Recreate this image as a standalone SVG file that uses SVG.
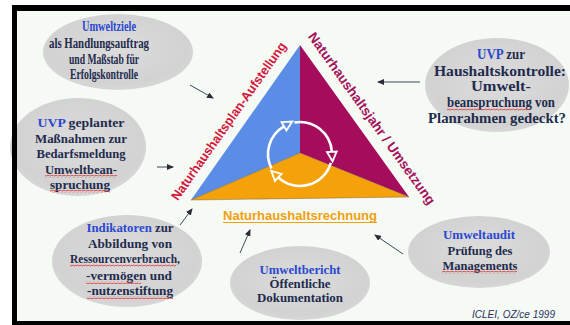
<svg xmlns="http://www.w3.org/2000/svg" width="570" height="325" viewBox="0 0 570 325">
  <defs>
    <style>
      .bubble { fill: url(#bubbleFill); }
      .t { font-family: "Liberation Serif", "Times New Roman", serif; font-weight: bold; fill: #1f2b4d; text-anchor: middle; }
      .kw { fill: #2b48d0; }
      .side { font-family: "Liberation Sans", Arial, sans-serif; font-weight: bold; text-anchor: middle; }
      .link { stroke: #44485a; stroke-width: 1; fill: none; marker-end: url(#arrow); }
      .cycle { stroke: #ffffff; stroke-width: 2.6; fill: none; marker-end: url(#cycleHead); }
      .squig { fill: url(#squiggle); }
    </style>
    <radialGradient id="bubbleFill" cx="50%" cy="45%" r="55%">
      <stop offset="0" stop-color="#dcdcdc"/>
      <stop offset="0.85" stop-color="#d2d2d2"/>
      <stop offset="1" stop-color="#d6d7d6"/>
    </radialGradient>
    <pattern id="squiggle" width="4" height="3" patternUnits="userSpaceOnUse">
      <path d="M0,2.2 L1,0.8 L3,2.2 L4,0.8" fill="none" stroke="#e03a3a" stroke-width="0.8"/>
    </pattern>
    <marker id="arrow" markerUnits="userSpaceOnUse" markerWidth="7" markerHeight="6" viewBox="0 0 7 6" refX="6" refY="3" orient="auto">
      <path d="M0,0 L7,3 L0,6 z" fill="#2a2c3a"/>
    </marker>
    <marker id="cycleHead" markerUnits="userSpaceOnUse" markerWidth="14" markerHeight="14" viewBox="-2 -7 14 14" refX="0" refY="0" orient="auto" overflow="visible">
      <path d="M0,-4.8 L9.5,0 L0,4.8 z" fill="none" stroke="#ffffff" stroke-width="1.9"/>
    </marker>
  </defs>

  <!-- page background -->
  <rect x="0" y="0" width="570" height="325" fill="#ffffff"/>
  <rect x="17" y="11" width="553" height="310" fill="#f5faf4"/>

  <!-- central triangle -->
  <g id="triangle">
    <polygon points="300,45 300,153 191,200" fill="#5b8de6"/>
    <polygon points="300,45 409,197 300,153" fill="#a50d5c"/>
    <polygon points="191,200 300,153 409,197" fill="#f4a10a" stroke="#6b5a3a" stroke-width="0.7" stroke-opacity="0.6"/>
    <g id="cycle">
      <path class="cycle" d="M294.4,122.5 A32,32 0 0 1 331.9,151.8"/>
      <path class="cycle" d="M330.8,162.8 A32,32 0 0 1 278.2,177.4"/>
      <path class="cycle" d="M271.5,168.5 A32,32 0 0 1 284,126.3"/>
    </g>
  </g>

  <!-- side labels -->
  <g id="label-plan">
    <text class="side" transform="translate(232.3,123.6) rotate(-54.9)" font-size="13" fill="#d2173c" textLength="190" lengthAdjust="spacingAndGlyphs">Naturhaushaltsplan-Aufstellung</text>
  </g>
  <g id="label-jahr">
    <text class="side" transform="translate(368,121.1) rotate(54.4)" font-size="13.5" fill="#a4125c" textLength="208" lengthAdjust="spacingAndGlyphs">Naturhaushaltsjahr / Umsetzung</text>
  </g>
  <g id="label-rechnung">
    <text class="side" x="300" y="220" font-size="13" fill="#f0a010" textLength="154" lengthAdjust="spacingAndGlyphs">Naturhaushaltsrechnung</text>
    <line x1="223" y1="222.5" x2="377" y2="222.5" stroke="#f0a010" stroke-width="1.2"/>
  </g>

  <!-- bubbles -->
  <g id="umweltziele">
    <ellipse class="bubble" cx="118" cy="52" rx="75" ry="38"/>
    <text class="t" font-size="14" x="109" y="31" textLength="54" lengthAdjust="spacingAndGlyphs"><tspan class="kw">Umweltziele</tspan></text>
    <text class="t" font-size="14" x="99" y="48" textLength="100" lengthAdjust="spacingAndGlyphs">als Handlungsauftrag</text>
    <text class="t" font-size="14" x="104" y="64" textLength="70" lengthAdjust="spacingAndGlyphs">und Maßstab für</text>
    <text class="t" font-size="14" x="104" y="79" textLength="68" lengthAdjust="spacingAndGlyphs">Erfolgskontrolle</text>
  </g>

  <g id="uvp-bedarf">
    <ellipse class="bubble" cx="78" cy="147" rx="68" ry="49"/>
    <text class="t" font-size="13" x="81" y="127" textLength="87" lengthAdjust="spacingAndGlyphs"><tspan class="kw">UVP</tspan> geplanter</text>
    <text class="t" font-size="13" x="81" y="143" textLength="92" lengthAdjust="spacingAndGlyphs">Maßnahmen zur</text>
    <text class="t" font-size="13" x="81" y="158" textLength="89" lengthAdjust="spacingAndGlyphs">Bedarfsmeldung</text>
    <text class="t" font-size="13" x="81" y="174" textLength="72" lengthAdjust="spacingAndGlyphs">Umweltbean-</text>
    <text class="t" font-size="13" x="80" y="189" textLength="60" lengthAdjust="spacingAndGlyphs">spruchung</text>
    <rect class="squig" x="45" y="175" width="72" height="3"/>
    <rect class="squig" x="50" y="190" width="60" height="3"/>
  </g>

  <g id="indikatoren">
    <ellipse class="bubble" cx="127" cy="261" rx="75" ry="46"/>
    <text class="t" font-size="13" x="130" y="232" textLength="87" lengthAdjust="spacingAndGlyphs"><tspan class="kw">Indikatoren</tspan> zur</text>
    <text class="t" font-size="13" x="130" y="248" textLength="84" lengthAdjust="spacingAndGlyphs">Abbildung von</text>
    <text class="t" font-size="13" x="125" y="263" textLength="110" lengthAdjust="spacingAndGlyphs">Ressourcenverbrauch,</text>
    <text class="t" font-size="13" x="129" y="280" textLength="86" lengthAdjust="spacingAndGlyphs">-vermögen und</text>
    <text class="t" font-size="13" x="130" y="295" textLength="86" lengthAdjust="spacingAndGlyphs">-nutzenstiftung</text>
    <rect class="squig" x="70" y="264" width="106" height="3"/>
    <rect class="squig" x="86" y="281" width="55" height="3"/>
    <rect class="squig" x="87" y="296" width="86" height="3"/>
  </g>

  <g id="umweltbericht">
    <ellipse class="bubble" cx="300" cy="283" rx="70" ry="37"/>
    <text class="t" font-size="13" x="300" y="274" textLength="81" lengthAdjust="spacingAndGlyphs"><tspan class="kw">Umweltbericht</tspan></text>
    <text class="t" font-size="13" x="300" y="288" textLength="61" lengthAdjust="spacingAndGlyphs">Öffentliche</text>
    <text class="t" font-size="13" x="300" y="302" textLength="86" lengthAdjust="spacingAndGlyphs">Dokumentation</text>
  </g>

  <g id="umweltaudit">
    <ellipse class="bubble" cx="479" cy="252" rx="71" ry="36"/>
    <text class="t" font-size="13" x="479" y="239" textLength="72" lengthAdjust="spacingAndGlyphs"><tspan class="kw">Umweltaudit</tspan></text>
    <text class="t" font-size="13" x="480" y="255" textLength="65" lengthAdjust="spacingAndGlyphs">Prüfung des</text>
    <text class="t" font-size="13" x="480" y="270" textLength="75" lengthAdjust="spacingAndGlyphs">Managements</text>
    <rect class="squig" x="442" y="271" width="75" height="3"/>
  </g>

  <g id="uvp-kontrolle">
    <ellipse class="bubble" cx="497" cy="85" rx="72" ry="47"/>
    <text class="t" font-size="14" x="501" y="59" textLength="48" lengthAdjust="spacingAndGlyphs"><tspan class="kw">UVP</tspan> zur</text>
    <text class="t" font-size="14" x="500" y="76" textLength="132" lengthAdjust="spacingAndGlyphs">Haushaltskontrolle:</text>
    <text class="t" font-size="14" x="501" y="91" textLength="60" lengthAdjust="spacingAndGlyphs">Umwelt-</text>
    <text class="t" font-size="14" x="501" y="107" textLength="108" lengthAdjust="spacingAndGlyphs">beanspruchung von</text>
    <text class="t" font-size="14" x="497" y="123" textLength="138" lengthAdjust="spacingAndGlyphs">Planrahmen gedeckt?</text>
    <rect class="squig" x="447" y="108" width="83" height="3"/>
  </g>

  <!-- connectors -->
  <g id="connectors">
    <line class="link" x1="190" y1="85" x2="213" y2="98"/>
    <line class="link" x1="157" y1="167" x2="173" y2="167"/>
    <line class="link" x1="180" y1="225" x2="192" y2="209"/>
    <line class="link" x1="240" y1="253" x2="250" y2="230"/>
    <line class="link" x1="403" y1="254" x2="375" y2="235"/>
    <line class="link" x1="420" y1="82" x2="378" y2="82"/>
  </g>

  <!-- credit line -->
  <g id="credit">
    <text x="555" y="318" font-family="Liberation Sans, Arial, sans-serif" font-style="italic" font-size="10" fill="#2a3060" text-anchor="end" textLength="83" lengthAdjust="spacingAndGlyphs">ICLEI, OZ/ce 1999</text>
  </g>

  <!-- black frame -->
  <path d="M12,5 H570 V11 H17 V321 H570 V325 H12 Z" fill="#000000"/>
</svg>
